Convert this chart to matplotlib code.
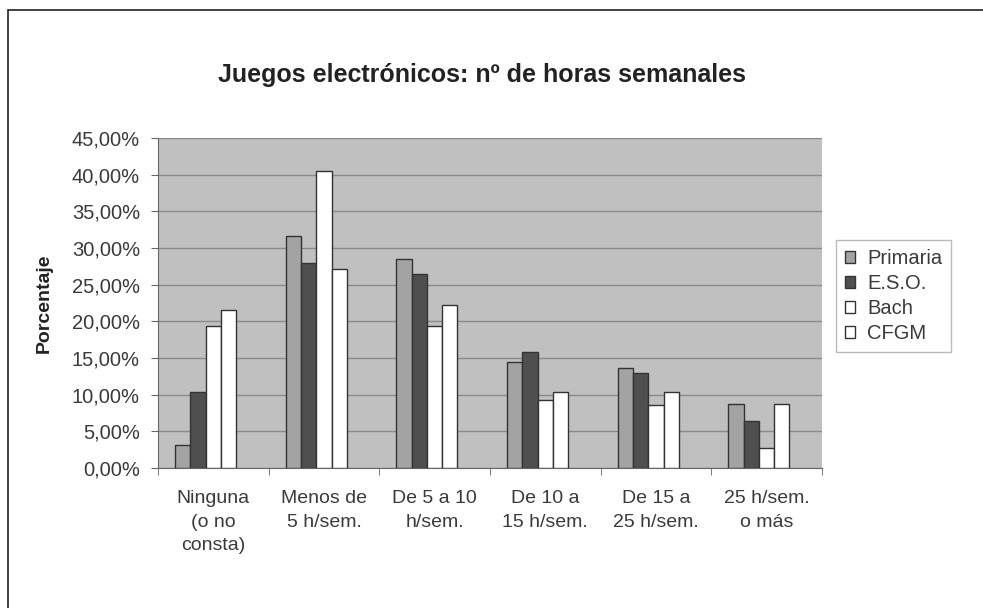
import matplotlib.pyplot as plt
from matplotlib.patches import Patch, Rectangle
from matplotlib.ticker import FuncFormatter, FixedLocator
import numpy as np

plt.rcParams['font.family'] = ['Liberation Sans', 'DejaVu Sans']

categories = ["Ninguna\n(o no\nconsta)", "Menos de\n5 h/sem.", "De 5 a 10\nh/sem.",
              "De 10 a\n15 h/sem.", "De 15 a\n25 h/sem.", "25 h/sem.\no más"]
series = ["Primaria", "E.S.O.", "Bach", "CFGM"]
primaria = [3.2, 31.6, 28.5, 14.4, 13.7, 8.7]
eso = [10.4, 28.0, 26.5, 15.8, 12.9, 6.4]
bach = [19.4, 40.5, 19.4, 9.3, 8.6, 2.7]
cfgm = [21.6, 27.1, 22.2, 10.4, 10.4, 8.7]
values = [primaria, eso, bach, cfgm]
colors = ["#a3a3a3", "#4f4f4f", "#ffffff", "#ffffff"]

txt = "#3a3a3a"

fig = plt.figure(figsize=(9.83, 6.08), dpi=100)
ax = fig.add_axes([158/983, 1 - 468/608, 664/983, 330/608])

# outer chart border (only left and top visible in the picture)
fig.patches.append(Rectangle((8/983, -0.2), 1.2, (608 - 10)/608 + 0.2,
                             transform=fig.transFigure, fill=False,
                             edgecolor="#222222", lw=1.2))

x = np.arange(len(categories))
w = 0.138
shift = -0.07  # bar groups sit a bit left of the category centre in the original
for i, (vals, c) in enumerate(zip(values, colors)):
    ax.bar(x + shift + (i - 1.5)*w, vals, w, color=c, edgecolor="#333333", lw=1.0,
           label=series[i], zorder=3)

ax.set_facecolor("#c0c0c0")
ax.set_xlim(-0.5, len(categories) - 0.5)
ax.set_ylim(0, 45)
ax.set_yticks(np.arange(0, 46, 5))
ax.yaxis.set_major_formatter(FuncFormatter(lambda v, p: f"{v:.2f}%".replace(".", ",")))
ax.grid(axis="y", color="#8a8a8a", lw=1.0, zorder=1)
ax.set_xticks(x)
ax.set_xticklabels(categories, linespacing=1.5)
ax.xaxis.set_minor_locator(FixedLocator(np.arange(-0.5, len(categories), 1)))
ax.tick_params(axis="x", which="major", length=0, pad=16, labelsize=14, labelcolor=txt)
ax.tick_params(axis="x", which="minor", length=5, color="#666666")
ax.tick_params(axis="y", length=5, color="#666666", labelsize=14.5, labelcolor=txt, pad=8)
for s in ["top", "right"]:
    ax.spines[s].set_visible(False)
ax.spines["left"].set_color("#666666")
ax.spines["bottom"].set_color("#666666")

ax.set_ylabel("Porcentaje", fontsize=14, fontweight="bold", color="#222222", labelpad=14)
fig.text(0.49, 1 - 75/608, "Juegos electrónicos: nº de horas semanales",
         ha="center", va="center", fontsize=18, fontweight="bold", color="#222222")

handles = [Patch(facecolor=c, edgecolor="#333333", label=s) for c, s in zip(colors, series)]
fig.legend(handles=handles, loc="upper left", bbox_to_anchor=(836/983, 1 - 240/608),
           frameon=True, fancybox=False, edgecolor="#aaaaaa", fontsize=14.5,
           handlelength=0.5, handleheight=0.5, handletextpad=0.6, labelspacing=0.3,
           borderpad=0.45, borderaxespad=0, labelcolor=txt)

fig.savefig("out.png", dpi=100)
